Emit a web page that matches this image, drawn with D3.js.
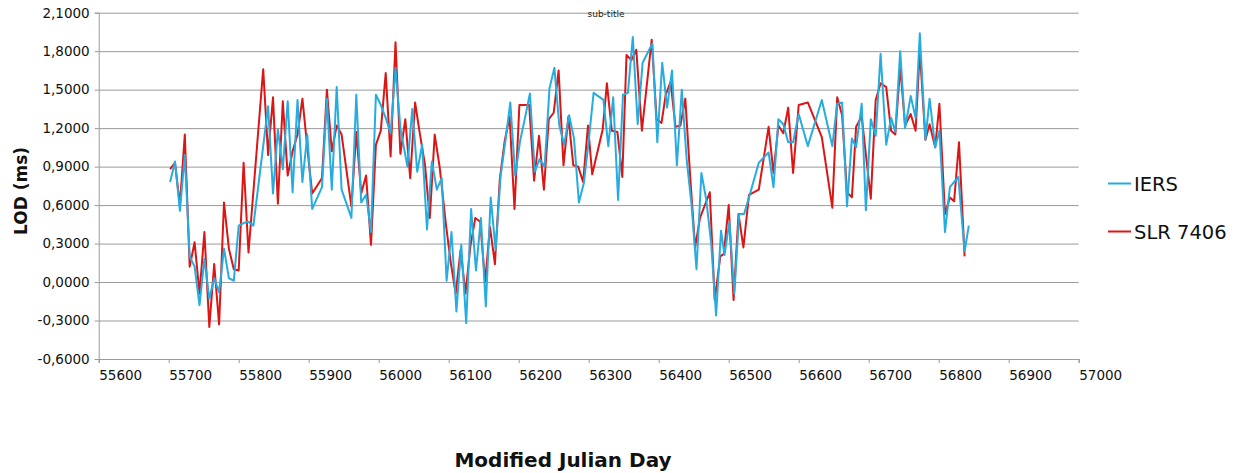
<!DOCTYPE html>
<html>
<head>
<meta charset="utf-8">
<script src="https://cdn.jsdelivr.net/npm/d3@7"></script>
<style>
  body { margin: 0; background: #fff; }
  svg { display: block; font-family: "DejaVu Sans", sans-serif; }
</style>
</head>
<body>
<svg id="chart"></svg>
<script>
// IERS series: modified julian day / LOD (ms)
var iersMjd = [55702, 55709, 55716, 55723, 55730, 55737, 55744, 55751, 55758, 55765, 55772, 55779, 55786, 55793, 55800, 55807, 55814, 55821,
  55842, 55849, 55856, 55863, 55870, 55877, 55884, 55891, 55898, 55905, 55919, 55926, 55933, 55940, 55947, 55961, 55968, 55975, 55982, 55989, 55996,
  56003, 56010, 56017, 56024, 56031, 56041, 56048, 56055, 56062, 56069, 56076, 56083, 56090, 56097, 56104, 56111, 56118, 56125, 56132, 56139, 56146,
  56153, 56160, 56167, 56174, 56181, 56188, 56195, 56202, 56209, 56216, 56223, 56230, 56237, 56244, 56251, 56258, 56265, 56272, 56279, 56286, 56293,
  56300, 56307, 56321, 56328, 56335, 56342, 56349, 56356, 56363, 56370, 56377, 56391, 56398, 56405, 56412, 56419, 56426, 56433, 56440, 56447, 56454,
  56461, 56468, 56475, 56482, 56489, 56494, 56501, 56508, 56515, 56522, 56529, 56543, 56557, 56564, 56571, 56578, 56585, 56592, 56600, 56613, 56633,
  56648, 56655, 56662, 56669, 56676, 56682, 56690, 56696, 56703, 56710, 56717, 56725, 56732, 56738, 56745, 56752, 56760, 56767, 56773, 56781, 56787,
  56795, 56801, 56809, 56816, 56828, 56837, 56843];
var iersLod = [0.78, 0.94, 0.555, 0.99, 0.20, 0.12, -0.18, 0.18, -0.13, 0.03, -0.08, 0.26, 0.03, 0.01, 0.44, 0.46, 0.47, 0.44,
  1.37, 0.69, 1.19, 0.88, 1.41, 0.70, 1.42, 0.78, 1.15, 0.57, 0.74, 1.43, 0.72, 1.52, 0.72, 0.50, 1.46, 0.62, 0.68, 0.39, 1.46,
  1.38, 1.28, 1.16, 1.67, 1.20, 0.90, 1.35, 0.86, 1.07, 0.41, 0.94, 0.72, 0.81, 0.01, 0.39, -0.23, 0.29, -0.32, 0.57, 0.09, 0.50,
  -0.19, 0.66, 0.25, 0.82, 1.10, 1.40, 0.83, 1.10, 1.28, 1.47, 0.86, 0.96, 0.90, 1.51, 1.67, 1.22, 1.07, 1.30, 1.12, 0.62, 0.77,
  1.10, 1.475, 1.42, 1.06, 1.44, 0.64, 1.46, 1.475, 1.91, 1.23, 1.71, 1.86, 1.09, 1.71, 1.36, 1.65, 0.91, 1.50, 0.95, 0.60, 0.10,
  0.85, 0.64, 0.30, -0.26, 0.40, 0.21, 0.47, -0.09, 0.53, 0.53, 0.66, 0.93, 1.01, 0.74, 1.27, 1.23, 1.09, 1.09, 1.31, 1.06, 1.42,
  1.06, 1.39, 1.40, 0.59, 1.12, 1.05, 1.39, 0.56, 1.27, 1.14, 1.78, 1.07, 1.28, 1.17, 1.80, 1.20, 1.45, 1.28, 1.94, 1.11, 1.43,
  1.05, 1.18, 0.39, 0.74, 0.82, 0.24, 0.44];

// SLR 7406 series
var slrMjd = [55702, 55709, 55716, 55723, 55730, 55737, 55744, 55751, 55758, 55765, 55772, 55779, 55786, 55793, 55800, 55807, 55814,
  55835, 55842, 55849, 55856, 55863, 55870, 55877, 55884, 55891, 55898, 55905, 55919, 55926, 55933, 55940, 55947, 55961, 55968, 55975, 55982,
  55989, 55996, 56003, 56010, 56017, 56024, 56031, 56038, 56045, 56052, 56059, 56066, 56073, 56080, 56087, 56096, 56103, 56110, 56117, 56124,
  56131, 56138, 56145, 56152, 56159, 56166, 56173, 56180, 56187, 56194, 56201, 56215, 56222, 56229, 56236, 56243, 56250, 56257, 56264, 56271,
  56278, 56285, 56292, 56299, 56305, 56320, 56326, 56333, 56341, 56348, 56354, 56361, 56368, 56376, 56390, 56397, 56404, 56410, 56417, 56424,
  56431, 56438, 56445, 56452, 56459, 56473, 56480, 56488, 56493, 56500, 56507, 56514, 56521, 56529, 56543, 56557, 56564, 56571, 56578, 56585,
  56592, 56600, 56613, 56633, 56648, 56655, 56662, 56669, 56676, 56682, 56690, 56703, 56710, 56717, 56725, 56732, 56738, 56745, 56752, 56760,
  56767, 56773, 56781, 56787, 56795, 56801, 56809, 56816, 56822, 56829, 56837];
var slrLod = [0.88, 0.93, 0.60, 1.15, 0.12, 0.31, -0.09, 0.39, -0.35, 0.14, -0.33, 0.62, 0.26, 0.10, 0.09, 0.93, 0.23,
  1.66, 0.99, 1.44, 0.61, 1.41, 0.83, 1.02, 1.15, 1.43, 1.05, 0.69, 0.81, 1.50, 1.02, 1.22, 1.15, 0.59, 1.17, 0.69, 0.83,
  0.29, 1.07, 1.18, 1.63, 0.98, 1.87, 1.00, 1.27, 0.81, 1.40, 1.15, 0.92, 0.50, 1.15, 0.90, 0.45, 0.15, -0.09, 0.25, -0.09,
  0.28, 0.50, 0.47, 0.00, 0.43, 0.14, 0.80, 1.10, 1.29, 0.57, 1.38, 1.38, 0.79, 1.14, 0.72, 1.27, 1.32, 1.65, 0.91, 1.29,
  0.91, 0.90, 0.78, 1.22, 0.84, 1.19, 1.55, 1.18, 1.17, 0.82, 1.77, 1.73, 1.81, 1.18, 1.89, 1.27, 1.24, 1.46, 1.56, 1.21,
  1.22, 1.43, 0.82, 0.27, 0.50, 0.70, -0.14, 0.20, 0.22, 0.60, -0.14, 0.53, 0.27, 0.68, 0.72, 1.21, 0.85, 1.22, 1.16, 1.36,
  0.85, 1.38, 1.40, 1.13, 0.58, 1.44, 1.30, 0.70, 0.66, 1.21, 1.29, 0.65, 1.42, 1.55, 1.52, 1.18, 1.15, 1.68, 1.22, 1.31,
  1.18, 1.81, 1.11, 1.23, 1.05, 1.39, 0.53, 0.66, 0.63, 1.09, 0.20];

var xTicks = [55600, 55700, 55800, 55900, 56000, 56100, 56200, 56300, 56400, 56500, 56600, 56700, 56800, 56900, 57000];
var yTicks = [-0.6, -0.3, 0, 0.3, 0.6, 0.9, 1.2, 1.5, 1.8, 2.1];
var seriesNames = ['IERS', 'SLR 7406'];
var seriesColors = ['#27ace0', '#dc1515'];

var width = 1243, height = 473;
var plotLeft = 98.7, plotRight = 1078.7, plotTop = 12.7, plotBottom = 359;

var svg = d3.select('#chart').attr('width', width).attr('height', height);
svg.append('rect').attr('width', width).attr('height', height).attr('fill', '#fff');

var x = d3.scaleLinear().domain([55600, 57000]).range([plotLeft, plotRight]);
var y = d3.scaleLinear().domain([-0.6, 2.1]).range([plotBottom, plotTop]);

var locale = d3.formatLocale({ decimal: ',', thousands: '.', grouping: [3], currency: ['', ''], minus: '-' });
var fmt = locale.format('.4f');

// grid
svg.append('g')
  .attr('transform', 'translate(' + plotLeft + ',0)')
  .call(d3.axisLeft(y).tickValues(yTicks).tickSize(-(plotRight - plotLeft)).tickFormat(''))
  .call(g => g.select('.domain').remove())
  .call(g => g.selectAll('line').attr('stroke', '#9a9a9a'));

// y axis
svg.append('g')
  .attr('transform', 'translate(' + plotLeft + ',0)')
  .call(d3.axisLeft(y).tickValues(yTicks).tickSize(4).tickPadding(5).tickFormat(fmt))
  .call(g => g.select('.domain').attr('stroke', '#9a9a9a'))
  .call(g => g.selectAll('line').attr('stroke', '#9a9a9a'))
  .call(g => g.selectAll('text').attr('font-size', '13.5px').attr('fill', '#111').attr('font-family', 'DejaVu Sans'));

// x axis
svg.append('g')
  .attr('transform', 'translate(0,' + plotBottom + ')')
  .call(d3.axisBottom(x).tickValues(xTicks).tickSize(4).tickFormat(d3.format('d')))
  .call(g => g.select('.domain').attr('stroke', '#9a9a9a'))
  .call(g => g.selectAll('line').attr('stroke', '#9a9a9a'))
  .call(g => g.selectAll('text')
    .attr('font-size', '13.5px').attr('fill', '#111').attr('font-family', 'DejaVu Sans')
    .attr('text-anchor', 'start').attr('y', 21).attr('dy', 0));

// lines
var line = d3.line().x(d => x(d[0])).y(d => y(d[1]));
var series = [d3.zip(iersMjd, iersLod), d3.zip(slrMjd, slrLod)];

[1, 0].forEach(function(i) {
  svg.append('path')
    .datum(series[i])
    .attr('d', line)
    .attr('fill', 'none')
    .attr('stroke', seriesColors[i])
    .attr('stroke-width', 2)
    .attr('stroke-linejoin', 'round');
});

// titles
svg.append('text')
  .attr('x', 606).attr('y', 17)
  .attr('text-anchor', 'middle')
  .attr('font-size', '9px').attr('fill', '#222')
  .text('sub-title');

svg.append('text')
  .attr('x', 563).attr('y', 467)
  .attr('text-anchor', 'middle')
  .attr('font-size', '20px').attr('font-weight', 'bold').attr('fill', '#111')
  .text('Modified Julian Day');

svg.append('text')
  .attr('transform', 'translate(27,191) rotate(-90)')
  .attr('text-anchor', 'middle')
  .attr('font-size', '17px').attr('font-weight', 'bold').attr('fill', '#111')
  .text('LOD (ms)');

// legend
var legend = svg.append('g').selectAll('g')
  .data(seriesNames)
  .enter()
  .append('g')
  .attr('transform', (d, i) => 'translate(1108,' + (183.5 + i * 48) + ')');

legend.append('line')
  .attr('x1', 0).attr('x2', 23)
  .attr('stroke', (d, i) => seriesColors[i])
  .attr('stroke-width', 2);

legend.append('text')
  .attr('x', 26).attr('y', 7)
  .attr('font-size', '19.5px').attr('fill', '#111')
  .text(d => d);
</script>
</body>
</html>
